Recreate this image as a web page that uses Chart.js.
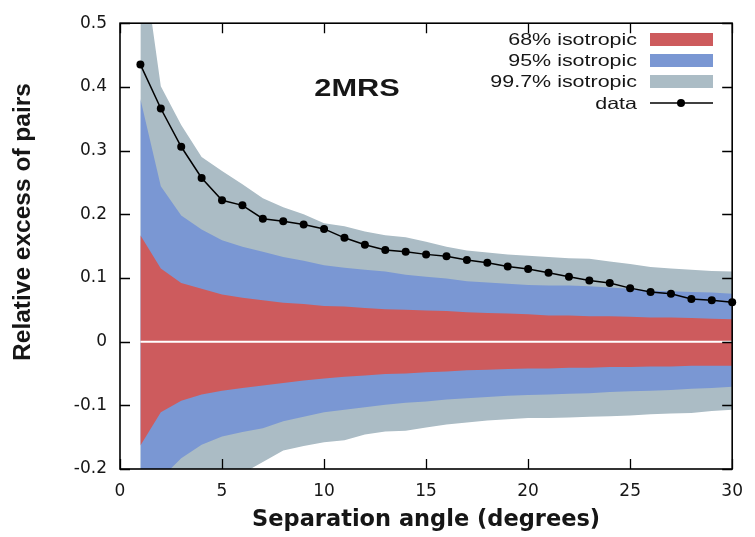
<!DOCTYPE html>
<html>
<head>
<meta charset="utf-8">
<script src="https://cdn.jsdelivr.net/npm/chart.js@4.4.1/dist/chart.umd.min.js"></script>
<style>
  html, body { margin: 0; padding: 0; background: #ffffff; }
  #wrap { width: 755px; height: 537px; }
</style>
</head>
<body>
<div id="wrap"><canvas id="c" width="755" height="537"></canvas></div>
<script>
// ---- data ----
const angles = [1,2,3,4,5,6,7,8,9,10,11,12,13,14,15,16,17,18,19,20,21,22,23,24,25,26,27,28,29,30];
const excessData = [0.435,0.366,0.306,0.257,0.222,0.214,0.193,0.189,0.184,0.177,0.163,0.152,0.144,0.141,0.137,0.134,0.128,0.124,0.118,0.114,0.108,0.102,0.096,0.092,0.084,0.078,0.075,0.067,0.065,0.062];
const iso68Upper = [0.167,0.115,0.092,0.083,0.074,0.069,0.065,0.061,0.059,0.056,0.055,0.053,0.051,0.050,0.049,0.048,0.046,0.045,0.044,0.043,0.041,0.041,0.040,0.040,0.039,0.038,0.038,0.037,0.036,0.035];
const iso68Lower = [-0.163,-0.111,-0.093,-0.083,-0.077,-0.073,-0.069,-0.065,-0.061,-0.058,-0.055,-0.053,-0.051,-0.050,-0.048,-0.047,-0.045,-0.044,-0.043,-0.042,-0.042,-0.041,-0.041,-0.040,-0.040,-0.039,-0.039,-0.038,-0.038,-0.038];
const iso95Upper = [0.381,0.244,0.198,0.176,0.159,0.149,0.141,0.133,0.127,0.120,0.116,0.113,0.110,0.105,0.102,0.099,0.095,0.093,0.091,0.089,0.088,0.088,0.087,0.085,0.083,0.080,0.079,0.078,0.077,0.075];
const iso95Lower = [-0.38,-0.215,-0.183,-0.162,-0.149,-0.142,-0.136,-0.125,-0.118,-0.111,-0.107,-0.103,-0.099,-0.096,-0.094,-0.091,-0.089,-0.087,-0.085,-0.084,-0.083,-0.082,-0.081,-0.079,-0.078,-0.077,-0.076,-0.074,-0.073,-0.071];
const iso997Upper = [0.63,0.401,0.340,0.290,0.268,0.247,0.225,0.211,0.200,0.186,0.181,0.173,0.167,0.164,0.157,0.149,0.143,0.140,0.137,0.135,0.133,0.131,0.130,0.126,0.122,0.117,0.115,0.113,0.111,0.110];
const iso997Lower = [-0.6,-0.42,-0.33,-0.28,-0.24,-0.207,-0.189,-0.171,-0.164,-0.158,-0.155,-0.146,-0.141,-0.140,-0.135,-0.130,-0.127,-0.124,-0.122,-0.120,-0.120,-0.119,-0.118,-0.117,-0.116,-0.114,-0.113,-0.112,-0.109,-0.107];
const zeroLine = [0,0,0,0,0,0,0,0,0,0,0,0,0,0,0,0,0,0,0,0,0,0,0,0,0,0,0,0,0,0];

const xTickValues = [0,5,10,15,20,25,30];
const xTickLabels = ['0','5','10','15','20','25','30'];
const yTickValues = [-0.2,-0.1,0,0.1,0.2,0.3,0.4,0.5];
const yTickLabels = ['-0.2','-0.1','0','0.1','0.2','0.3','0.4','0.5'];

const legendLabels = ['68% isotropic','95% isotropic','99.7% isotropic','data'];
const panelLabel = '2MRS';
const xTitle = 'Separation angle (degrees)';
const yTitle = 'Relative excess of pairs';

// ---- styles ----
const C_RED = '#cd5b5d';
const C_BLUE = '#7a97d3';
const C_GRAY = '#abbcc5';
const C_TEXT = '#161616';

const pts = arr => angles.map((a, i) => ({ x: a, y: arr[i] }));
const band = (arr, color, fill) => ({
  data: pts(arr), borderWidth: 0, borderColor: color, backgroundColor: color,
  pointRadius: 0, tension: 0, fill: fill
});

const decorPlugin = {
  id: 'decor',
  afterDraw(chart) {
    const ctx = chart.ctx;
    const a = chart.chartArea;
    const xs = chart.scales.x, ys = chart.scales.y;
    ctx.save();
    // inward ticks on all four sides
    ctx.strokeStyle = '#000';
    ctx.lineWidth = 1.3;
    ctx.beginPath();
    xTickValues.forEach(v => {
      const px = Math.round(xs.getPixelForValue(v)) + 0.5;
      ctx.moveTo(px, a.bottom); ctx.lineTo(px, a.bottom - 10);
      ctx.moveTo(px, a.top); ctx.lineTo(px, a.top + 10);
    });
    yTickValues.forEach(v => {
      const py = Math.round(ys.getPixelForValue(v)) + 0.5;
      ctx.moveTo(a.left, py); ctx.lineTo(a.left + 10, py);
      ctx.moveTo(a.right, py); ctx.lineTo(a.right - 10, py);
    });
    ctx.stroke();
    // frame
    ctx.lineWidth = 1.6;
    ctx.strokeRect(a.left, a.top, a.right - a.left, a.bottom - a.top);

    // y axis title
    ctx.fillStyle = C_TEXT;
    ctx.font = 'bold 24.5px "Liberation Sans", Arial, sans-serif';
    ctx.textAlign = 'center';
    ctx.textBaseline = 'middle';
    ctx.translate(23, 222);
    ctx.rotate(-Math.PI / 2);
    ctx.fillText(yTitle, 0, 0);
    ctx.restore();

    // panel label
    ctx.save();
    ctx.fillStyle = C_TEXT;
    ctx.font = 'bold 24px "Liberation Sans", Arial, sans-serif';
    ctx.textAlign = 'center';
    ctx.textBaseline = 'middle';
    ctx.translate(357, 89);
    ctx.scale(1.28, 1);
    ctx.fillText(panelLabel, 0, 0);
    ctx.restore();

    // legend
    const rows = [39.5, 60.5, 81.5, 103];
    const colors = [C_RED, C_BLUE, C_GRAY];
    rows.forEach((yc, i) => {
      ctx.save();
      ctx.fillStyle = C_TEXT;
      ctx.font = '16.5px "Liberation Sans", Arial, sans-serif';
      ctx.textAlign = 'right';
      ctx.textBaseline = 'middle';
      ctx.translate(637, yc + 1);
      ctx.scale(1.3, 1);
      ctx.fillText(legendLabels[i], 0, 0);
      ctx.restore();
      ctx.save();
      if (i < 3) {
        ctx.fillStyle = colors[i];
        ctx.fillRect(650, yc - 6.5, 63, 13);
      } else {
        ctx.strokeStyle = '#000';
        ctx.lineWidth = 1.5;
        ctx.beginPath();
        ctx.moveTo(650, yc); ctx.lineTo(713, yc);
        ctx.stroke();
        ctx.fillStyle = '#000';
        ctx.beginPath();
        ctx.arc(681, yc, 4, 0, Math.PI * 2);
        ctx.fill();
      }
      ctx.restore();
    });
  }
};

new Chart(document.getElementById('c'), {
  type: 'line',
  data: {
    datasets: [
      { data: pts(excessData), borderColor: '#000', backgroundColor: '#000', borderWidth: 1.5,
        pointRadius: 4, pointHoverRadius: 4, pointBackgroundColor: '#000', pointBorderWidth: 0,
        tension: 0, fill: false, clip: false },
      { data: pts(zeroLine), borderColor: '#ffffff', borderWidth: 2, pointRadius: 0, fill: false, tension: 0 },
      band(iso68Upper, C_RED, '+1'),
      band(iso68Lower, C_RED, false),
      band(iso95Upper, C_BLUE, '+1'),
      band(iso95Lower, C_BLUE, false),
      band(iso997Upper, C_GRAY, '+1'),
      band(iso997Lower, C_GRAY, false)
    ]
  },
  options: {
    responsive: false,
    animation: false,
    events: [],
    layout: { padding: { top: 16, right: 16, left: 0, bottom: 0 } },
    plugins: { legend: { display: false }, tooltip: { enabled: false }, title: { display: false } },
    scales: {
      x: {
        type: 'linear', min: 0, max: 30,
        afterBuildTicks: s => { s.ticks = xTickValues.map(v => ({ value: v })); },
        afterFit: s => { s.height = 68; },
        grid: { display: false, drawTicks: false },
        border: { display: false },
        ticks: {
          padding: 12, color: C_TEXT, maxRotation: 0, autoSkip: false,
          font: { family: '"DejaVu Sans", sans-serif', size: 17 },
          callback: (v, i) => xTickLabels[i]
        },
        title: {
          display: true, text: xTitle, color: C_TEXT,
          font: { family: '"DejaVu Sans", sans-serif', size: 22.5, weight: 'bold' },
          padding: { top: 0, bottom: 3 }
        }
      },
      y: {
        type: 'linear', min: -0.2, max: 0.5,
        afterBuildTicks: s => { s.ticks = yTickValues.map(v => ({ value: v })); },
        afterFit: s => { s.width = 120; },
        grid: { display: false, drawTicks: false },
        border: { display: false },
        ticks: {
          padding: 13, color: C_TEXT, autoSkip: false,
          font: { family: '"DejaVu Sans", sans-serif', size: 17 },
          callback: (v, i) => yTickLabels[i]
        },
        title: { display: false }
      }
    }
  },
  plugins: [decorPlugin]
});
</script>
</body>
</html>
